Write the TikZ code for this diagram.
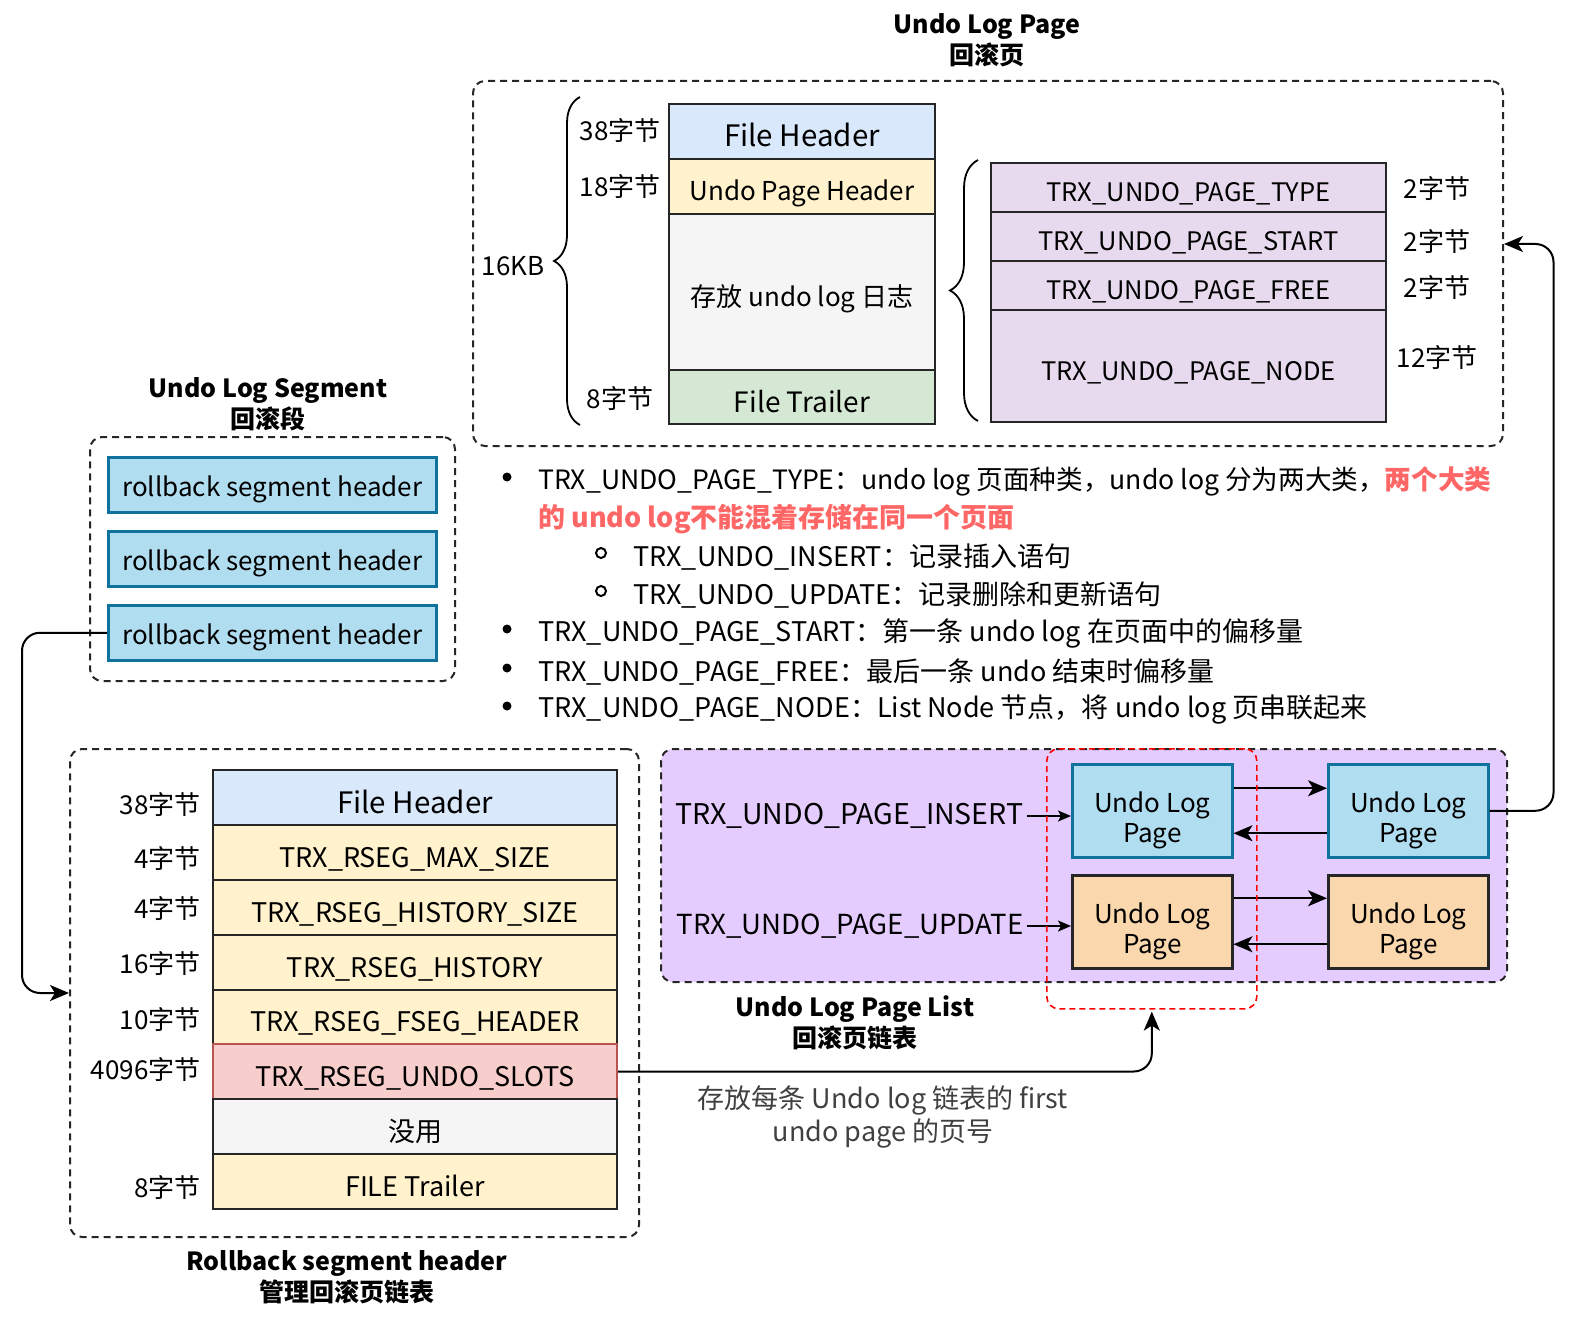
\documentclass[tikz,border=0pt]{standalone}
\usepackage{fontspec}
\setmainfont{Noto Sans CJK SC}
\usetikzlibrary{arrows.meta,decorations.pathreplacing}
\definecolor{hdrblue}{HTML}{DAE8FC}
\definecolor{hdryel}{HTML}{FFF2CC}
\definecolor{hdrgray}{HTML}{F5F5F5}
\definecolor{hdrgreen}{HTML}{D5E8D4}
\definecolor{rowpurp}{HTML}{E7DAEE}
\definecolor{listpurp}{HTML}{E5CCFF}
\definecolor{segfill}{HTML}{B1DDF0}
\definecolor{segline}{HTML}{10739E}
\definecolor{orfill}{HTML}{FAD7AC}
\definecolor{slotfill}{HTML}{F8CECC}
\definecolor{slotline}{HTML}{B85450}
\definecolor{redtxt}{HTML}{FF6666}
\newcommand{\fsz}[2]{\fontsize{#1}{#2}\selectfont}
\begin{document}
\begin{tikzpicture}[x=1pt,y=-1pt,
  cell/.style={draw=black!85, line width=2pt, anchor=north west, inner sep=0pt, font=\fsz{26}{30}, text height=28.5pt, text depth=0pt},
  topcell/.style={cell, minimum width=266pt},
  pcell/.style={cell, minimum width=395pt, minimum height=49pt, fill=rowpurp, font=\fsz{25.5}{30}, text height=28pt},
  lcell/.style={cell, minimum width=404pt, minimum height=55pt, fill=hdryel, font=\fsz{27}{31}, text height=29pt},
  bigtxt/.style={font=\fsz{29.5}{33}, text height=31pt},
  dbox/.style={draw=black!85, line width=2pt, dash pattern=on 7pt off 5pt, rounded corners=12pt, anchor=north west, inner sep=0pt},
  segbox/.style={draw=segline, fill=segfill, line width=2.5pt, anchor=north west, inner sep=0pt, minimum width=328pt, minimum height=55pt, font=\fsz{26}{30}, text height=24pt, text depth=0pt},
  pagebox/.style={line width=2.5pt, anchor=north west, inner sep=0pt, minimum width=160pt, minimum height=93pt,
     label={[yshift=-10pt, align=center, font=\fsz{26}{30}]center:Undo Log\\Page}},
  ttl/.style={align=center, font=\bfseries\fsz{25}{31}, yshift=-4pt},
  lab/.style={font=\fsz{26}{30}},
  btxt/.style={anchor=west, inner sep=0pt, font=\fsz{27}{31}, yshift=-5pt},
  bul/.style={circle, fill=black, inner sep=0pt, minimum size=9pt},
  sbul/.style={circle, draw=black, line width=2pt, inner sep=0pt, minimum size=10pt},
  arr/.style={line width=2pt, -{Stealth[length=19pt,width=16pt,inset=5pt]}},
  sarr/.style={line width=1.8pt, -{Stealth[length=13pt,width=11pt,inset=3pt]}},
  brc/.style={decorate, decoration={brace, amplitude=#1}, line width=1.8pt}
]
\useasboundingbox (0,0) rectangle (1574,1324);

% ---------- Undo Log Page ----------
\node[ttl] (tpage) at (987,36) {Undo Log Page\\回滚页};
\node[dbox, minimum width=1030pt, minimum height=365pt] (pagebox) at (472,80) {};

\node[topcell, minimum height=55pt, fill=hdrblue, bigtxt] (fh) at (668,103) {File Header};
\node[topcell, minimum height=55pt, fill=hdryel] (uph) at (668,158) {Undo Page Header};
\node[topcell, minimum height=156pt, fill=hdrgray] (ulog) at (668,213) {存放 undo log 日志};
\node[topcell, minimum height=54pt, fill=hdrgreen, font=\fsz{28}{32}, text height=30pt] (ft) at (668,369) {File Trailer};

\coordinate (brA1) at (580,425);
\coordinate (brA2) at (580,97);
\draw[brc=26pt] (brA1) -- (brA2);
\node[lab] (l16kb) at (513,266) {16KB};
\node[lab] (l38a) at (620,131) {38字节};
\node[lab] (l18a) at (620,187) {18字节};
\node[lab] (l8a) at (620,399) {8字节};

\node[pcell] (ptype) at (990,162) {TRX\_UNDO\_PAGE\_TYPE};
\node[pcell] (pstart) at (990,211) {TRX\_UNDO\_PAGE\_START};
\node[pcell] (pfree) at (990,260) {TRX\_UNDO\_PAGE\_FREE};
\node[pcell, minimum height=112pt] (pnode) at (990,309) {TRX\_UNDO\_PAGE\_NODE};

\coordinate (brB1) at (978,421);
\coordinate (brB2) at (978,160);
\draw[brc=28pt] (brB1) -- (brB2);
\node[lab] (l2a) at (1437,189) {2字节};
\node[lab] (l2b) at (1437,242) {2字节};
\node[lab] (l2c) at (1437,288) {2字节};
\node[lab] (l12) at (1437,358) {12字节};

% ---------- bullets ----------
\node[bul] (b1) at (507,477) {};
\node[btxt, font=\fsz{26.6}{31}] (t1) at (538,476) {TRX\_UNDO\_PAGE\_TYPE：undo log 页面种类，undo log 分为两大类，\textcolor{redtxt}{\bfseries 两个大类}};
\node[btxt, text=redtxt, font=\bfseries\fsz{27}{31}] (t1b) at (538,514) {的 undo log不能混着存储在同一个页面};
\node[sbul] (s1) at (601,553) {};
\node[btxt] (t2) at (633,552) {TRX\_UNDO\_INSERT：记录插入语句};
\node[sbul] (s2) at (601,591) {};
\node[btxt] (t3) at (633,590) {TRX\_UNDO\_UPDATE：记录删除和更新语句};
\node[bul] (b2) at (507,629) {};
\node[btxt] (t4) at (538,628) {TRX\_UNDO\_PAGE\_START：第一条 undo log 在页面中的偏移量};
\node[bul] (b3) at (507,668) {};
\node[btxt] (t5) at (538,667) {TRX\_UNDO\_PAGE\_FREE：最后一条 undo 结束时偏移量};
\node[bul] (b4) at (507,706) {};
\node[btxt] (t6) at (538,705) {TRX\_UNDO\_PAGE\_NODE：List Node 节点，将 undo log 页串联起来};

% ---------- Undo Log Segment ----------
\node[ttl] (tseg) at (268,400) {Undo Log Segment\\回滚段};
\node[dbox, minimum width=365pt, minimum height=244pt] (segouter) at (89,436) {};
\node[segbox] (rs1) at (107,456) {rollback segment header};
\node[segbox] (rs2) at (107,530) {rollback segment header};
\node[segbox] (rs3) at (107,604) {rollback segment header};

% ---------- Rollback segment header ----------
\node[dbox, minimum width=569pt, minimum height=488pt] (rsegbox) at (69,748) {};
\node[ttl] (trseg) at (347,1273) {Rollback segment header\\管理回滚页链表};
\node[lcell, fill=hdrblue, bigtxt] (r1) at (212,769) {File Header};
\node[lcell] (r2) at (212,824) {TRX\_RSEG\_MAX\_SIZE};
\node[lcell] (r3) at (212,879) {TRX\_RSEG\_HISTORY\_SIZE};
\node[lcell] (r4) at (212,934) {TRX\_RSEG\_HISTORY};
\node[lcell, minimum height=54pt] (r5) at (212,989) {TRX\_RSEG\_FSEG\_HEADER};
\node[lcell, fill=slotfill, draw=slotline] (r6) at (212,1043) {TRX\_RSEG\_UNDO\_SLOTS};
\node[lcell, fill=hdrgray, font=\fsz{27}{31}] (r7) at (212,1098) {没用};
\node[lcell] (r8) at (212,1153) {FILE Trailer};
\node[lab, anchor=east] (m1) at (204,805) {38字节};
\node[lab, anchor=east] (m2) at (204,859) {4字节};
\node[lab, anchor=east] (m3) at (204,909) {4字节};
\node[lab, anchor=east] (m4) at (204,964) {16字节};
\node[lab, anchor=east] (m5) at (204,1020) {10字节};
\node[lab, anchor=east] (m6) at (204,1070) {4096字节};
\node[lab, anchor=east] (m7) at (204,1188) {8字节};

% ---------- Undo Log Page List ----------
\node[dbox, fill=listpurp, minimum width=846pt, minimum height=233pt] (listbox) at (660,748) {};
\node[ttl] (tlist) at (855,1019) {Undo Log Page List\\回滚页链表};
\node[pagebox, draw=segline, fill=segfill] (p1) at (1071,763) {};
\node[pagebox, draw=segline, fill=segfill] (p2) at (1327,763) {};
\node[pagebox, draw=black!85, fill=orfill] (p3) at (1071,874) {};
\node[pagebox, draw=black!85, fill=orfill] (p4) at (1327,874) {};
\node[lab, anchor=east, font=\fsz{28.5}{32}, yshift=-4pt] (lins) at (1027,812) {TRX\_UNDO\_PAGE\_INSERT};
\node[lab, anchor=east, font=\fsz{27.6}{32}, yshift=-4pt] (lupd) at (1027,922) {TRX\_UNDO\_PAGE\_UPDATE};
\draw[sarr] (lins.east) -- (lins.east -| p1.west);
\draw[sarr] (lupd.east) -- (lupd.east -| p3.west);
\draw[arr] ([yshift=22.5pt]p1.east) -- ([yshift=22.5pt]p2.west);
\draw[arr] ([yshift=-22.5pt]p2.west) -- ([yshift=-22.5pt]p1.east);
\draw[arr] ([yshift=23.5pt]p3.east) -- ([yshift=23.5pt]p4.west);
\draw[arr] ([yshift=-22.5pt]p4.west) -- ([yshift=-22.5pt]p3.east);
\node[draw=red, line width=1.6pt, dash pattern=on 6pt off 4pt, rounded corners=12pt, anchor=north west, inner sep=0pt, minimum width=210pt, minimum height=260pt] (redbox) at (1046,748) {};

% ---------- connectors ----------
\draw[arr, rounded corners=18pt] (rs3.west) -- ++(-85,0) |- (rsegbox.west);
\draw[arr, rounded corners=18pt] (r6.east) -| ([yshift=-2pt]redbox.south);
\node[align=center, text=black!75, font=\fsz{27}{33}, yshift=-7pt] (slotlab) at (883,1110) {存放每条 Undo log 链表的 first\\undo page 的页号};
\coordinate (pgIn) at (1504,244);
\draw[arr, rounded corners=18pt] (p2.east) -- ++(64,0) |- (pgIn);
\end{tikzpicture}
\end{document}
